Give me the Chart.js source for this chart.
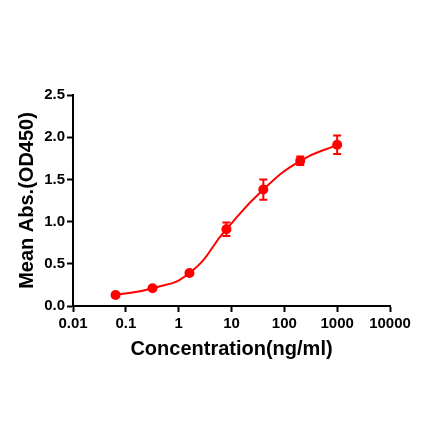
<!DOCTYPE html>
<html>
<head>
<meta charset="utf-8">
<script src="https://cdn.jsdelivr.net/npm/chart.js@4/dist/chart.umd.min.js"></script>
<style>
  html, body { margin: 0; padding: 0; background: #fff; }
  #wrap { width: 440px; height: 441px; }
</style>
</head>
<body>
<div id="wrap"><canvas id="elisaChart"></canvas></div>
<script>
// concentrations (ng/ml), 5-fold dilution series
var concentrations = [0.064, 0.32, 1.6, 8, 40, 200, 1000];
var meanAbs = [0.13, 0.21, 0.39, 0.91, 1.38, 1.72, 1.91];
var errAbs = [0.02, 0.02, 0.02, 0.08, 0.12, 0.05, 0.11];

var xTickValues = [0.01, 0.1, 1, 10, 100, 1000, 10000];
var xTickLabels = ['0.01', '0.1', '1', '10', '100', '1000', '10000'];
var yTickValues = [0, 0.5, 1.0, 1.5, 2.0, 2.5];

var red = '#ff0000';
var fontName = "'Liberation Sans', Arial, sans-serif";

var points = concentrations.map(function (c, i) {
  return { x: c, y: meanAbs[i] };
});

// error bars, drawn with the chart's own scales
var errorBars = {
  id: 'errorBars',
  afterDatasetsDraw: function (chart) {
    var ctx = chart.ctx;
    var xs = chart.scales.x, ys = chart.scales.y;
    ctx.save();
    ctx.strokeStyle = red;
    ctx.lineWidth = 2;
    concentrations.forEach(function (c, i) {
      var px = xs.getPixelForValue(c);
      var top = ys.getPixelForValue(meanAbs[i] + errAbs[i]);
      var bot = ys.getPixelForValue(meanAbs[i] - errAbs[i]);
      ctx.beginPath();
      ctx.moveTo(px, top); ctx.lineTo(px, bot);
      ctx.moveTo(px - 4, top); ctx.lineTo(px + 4, top);
      ctx.moveTo(px - 4, bot); ctx.lineTo(px + 4, bot);
      ctx.stroke();
    });
    ctx.restore();
  }
};

var ctx = document.getElementById('elisaChart').getContext('2d');
var chart = new Chart(ctx, {
  type: 'line',
  data: {
    datasets: [{
      data: points,
      borderColor: red,
      backgroundColor: red,
      borderWidth: 2,
      pointRadius: 5,
      pointHoverRadius: 5,
      pointBorderWidth: 0,
      tension: 0.5,
      fill: false
    }]
  },
  options: {
    responsive: true,
    maintainAspectRatio: false,
    animation: false,
    events: [],
    layout: { padding: { left: 0, right: 50, top: 95, bottom: 78 } },
    plugins: { legend: { display: false }, tooltip: { enabled: false } },
    scales: {
      x: {
        type: 'logarithmic',
        min: 0.01,
        max: 10000,
        afterBuildTicks: function (scale) {
          scale.ticks = xTickValues.map(function (v) { return { value: v, major: true }; });
        },
        afterFit: function (scale) { scale.height = 57; },
        border: { color: '#000', width: 2 },
        grid: { drawOnChartArea: false, drawTicks: true, tickLength: 6, tickWidth: 2, tickColor: '#000' },
        ticks: {
          autoSkip: false,
          maxRotation: 0,
          padding: 3,
          color: '#000',
          font: { family: fontName, size: 15, weight: 'bold' },
          callback: function (value) {
            var i = xTickValues.indexOf(value);
            return i >= 0 ? xTickLabels[i] : '';
          }
        },
        title: {
          display: true,
          text: 'Concentration(ng/ml)',
          color: '#000',
          font: { family: fontName, size: 20, weight: 'bold' },
          padding: { top: 0, bottom: 2 }
        }
      },
      y: {
        min: 0,
        max: 2.5,
        afterBuildTicks: function (scale) {
          scale.ticks = yTickValues.map(function (v) { return { value: v }; });
        },
        afterFit: function (scale) { scale.width = 73; },
        border: { color: '#000', width: 2 },
        grid: { drawOnChartArea: false, drawTicks: true, tickLength: 6, tickWidth: 2, tickColor: '#000' },
        ticks: {
          padding: 2,
          color: '#000',
          font: { family: fontName, size: 15, weight: 'bold' },
          callback: function (value) { return Number(value).toFixed(1); }
        },
        title: {
          display: true,
          text: 'Mean Abs.(OD450)',
          color: '#000',
          font: { family: fontName, size: 20, weight: 'bold' },
          padding: { top: 15, bottom: 0 }
        }
      }
    }
  },
  plugins: [errorBars]
});
</script>
</body>
</html>
